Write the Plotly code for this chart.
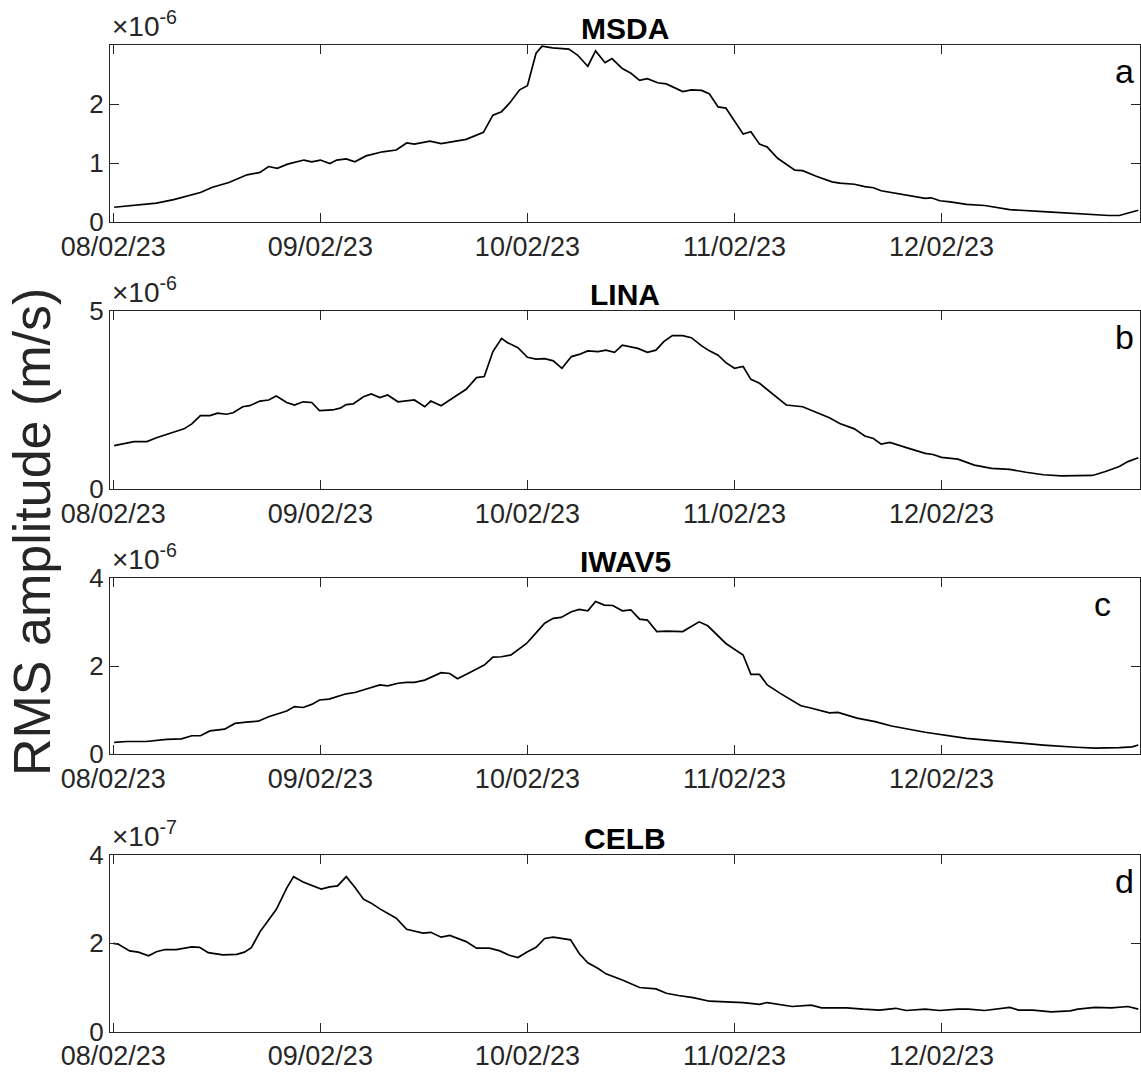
import pandas as pd
import plotly.graph_objects as go

# ---------------- data (hours since 08/02/23 00:00, amplitude in units of the panel scale) ----
MSDA_h = [0.1, 5.0, 7.0, 10.1, 11.5, 13.4, 15.5, 17.0, 18.0, 19.0, 20.2, 22.1, 23.0, 24.0, 25.1, 25.9,
          27.0, 28.0, 29.3, 31.2, 32.8, 34.0, 34.9, 36.7, 38.0, 40.9, 42.9, 44.0, 45.0, 45.9, 47.1, 48.0,
          49.0, 49.7, 50.9, 52.8, 53.8, 55.0, 55.9, 57.0, 57.8, 59.0, 60.0, 61.0, 61.9, 63.1, 64.1, 66.0,
          67.0, 68.2, 69.1, 70.1, 71.0, 72.0, 73.0, 73.9, 74.9, 75.8, 77.0, 79.0, 79.9, 81.4, 83.3, 84.2,
          85.9, 87.1, 88.1, 89.0, 90.2, 92.2, 94.1, 94.8, 95.8, 97.0, 98.9, 101.0, 103.9, 107.8, 111.6,
          115.4, 116.6, 117.6, 118.8]
MSDA_v = [0.25, 0.32, 0.38, 0.50, 0.59, 0.67, 0.80, 0.84, 0.94, 0.91, 0.98, 1.05, 1.02, 1.05, 0.99, 1.05,
          1.07, 1.02, 1.12, 1.19, 1.22, 1.34, 1.32, 1.37, 1.33, 1.40, 1.52, 1.81, 1.87, 2.01, 2.24, 2.31,
          2.86, 2.98, 2.95, 2.93, 2.83, 2.64, 2.90, 2.70, 2.77, 2.60, 2.52, 2.40, 2.43, 2.36, 2.34, 2.21,
          2.24, 2.23, 2.17, 1.95, 1.93, 1.70, 1.49, 1.53, 1.32, 1.27, 1.08, 0.88, 0.87, 0.78, 0.68, 0.66,
          0.64, 0.60, 0.58, 0.53, 0.50, 0.44, 0.40, 0.41, 0.36, 0.34, 0.30, 0.28, 0.21, 0.175, 0.14,
          0.11, 0.11, 0.15, 0.20]

LINA_h = [0.1, 2.4, 3.9, 5.0, 8.2, 9.1, 10.1, 11.2, 12.1, 13.1, 13.9, 15.0, 15.8, 17.0, 18.0, 18.9,
          20.1, 21.0, 22.0, 23.0, 23.9, 25.4, 26.3, 27.0, 27.8, 29.0, 29.9, 30.9, 31.8, 33.0, 34.9, 36.1,
          36.8, 38.0, 39.0, 40.9, 42.1, 43.0, 44.0, 45.0, 45.7, 46.9, 48.0, 49.0, 50.0, 51.0, 52.0, 53.1,
          54.0, 55.0, 56.2, 57.1, 58.1, 59.0, 60.8, 61.9, 62.9, 63.8, 64.8, 66.0, 67.0, 68.2, 69.1, 70.1,
          71.0, 72.0, 73.0, 73.9, 74.9, 76.3, 78.0, 79.9, 81.6, 83.0, 84.2, 85.9, 87.1, 88.1, 89.0, 90.0,
          92.2, 94.1, 95.0, 96.0, 97.9, 99.8, 101.8, 103.9, 105.8, 107.8, 109.9, 113.5, 115.0, 116.6,
          117.6, 118.8]
LINA_v = [1.22, 1.33, 1.33, 1.44, 1.69, 1.83, 2.06, 2.06, 2.13, 2.10, 2.14, 2.31, 2.34, 2.47, 2.50, 2.61,
          2.43, 2.36, 2.45, 2.43, 2.20, 2.22, 2.27, 2.37, 2.39, 2.59, 2.67, 2.57, 2.64, 2.45, 2.50, 2.31,
          2.47, 2.34, 2.50, 2.80, 3.13, 3.16, 3.86, 4.23, 4.11, 3.97, 3.70, 3.65, 3.66, 3.60, 3.39, 3.72,
          3.78, 3.88, 3.86, 3.90, 3.84, 4.04, 3.95, 3.84, 3.90, 4.14, 4.31, 4.31, 4.25, 4.02, 3.88, 3.76,
          3.55, 3.39, 3.44, 3.08, 2.97, 2.69, 2.36, 2.31, 2.13, 2.00, 1.84, 1.69, 1.49, 1.42, 1.26, 1.31,
          1.14, 1.00, 0.97, 0.89, 0.84, 0.67, 0.58, 0.55, 0.47, 0.40, 0.37, 0.38, 0.49, 0.63,
          0.77, 0.88]

IWAV5_h = [0.1, 1.6, 3.8, 6.2, 7.9, 9.1, 10.1, 11.2, 12.9, 14.1, 15.4, 16.8, 18.0, 19.1, 20.1, 21.0,
           22.0, 23.0, 23.9, 25.0, 27.0, 28.0, 29.3, 30.9, 31.8, 33.0, 34.0, 34.9, 36.1, 38.0, 39.0, 39.9,
           41.1, 42.1, 43.0, 44.0, 45.0, 46.1, 47.9, 49.0, 50.0, 51.0, 51.9, 53.1, 54.0, 55.0, 55.9, 56.9,
           57.9, 59.0, 60.0, 61.0, 61.9, 63.0, 64.1, 66.0, 67.0, 67.9, 68.9, 71.0, 73.0, 73.9, 74.9, 75.8,
           77.3, 79.7, 80.6, 83.0, 84.0, 86.2, 88.3, 90.2, 94.1, 95.8, 98.9, 101.8, 103.9, 107.8, 111.6,
           113.8, 116.6, 118.1, 118.8]
IWAV5_v = [0.27, 0.29, 0.29, 0.34, 0.35, 0.42, 0.42, 0.53, 0.57, 0.70, 0.73, 0.75, 0.85, 0.91, 0.98, 1.08,
           1.06, 1.13, 1.23, 1.25, 1.37, 1.40, 1.47, 1.57, 1.55, 1.61, 1.63, 1.63, 1.68, 1.85, 1.83, 1.71,
           1.83, 1.93, 2.02, 2.20, 2.21, 2.25, 2.51, 2.75, 2.97, 3.08, 3.10, 3.23, 3.28, 3.25, 3.46, 3.38,
           3.37, 3.25, 3.27, 3.06, 3.04, 2.78, 2.79, 2.78, 2.89, 3.00, 2.91, 2.51, 2.25, 1.81, 1.81, 1.57,
           1.38, 1.10, 1.06, 0.94, 0.95, 0.82, 0.74, 0.64, 0.50, 0.45, 0.36, 0.31, 0.27, 0.21, 0.16,
           0.14, 0.15, 0.17, 0.21]

CELB_h = [0.0, 0.6, 1.9, 2.9, 4.1, 5.0, 6.0, 7.3, 9.1, 10.0, 11.0, 12.7, 14.3, 15.2, 16.0, 17.0, 18.0,
          18.9, 20.1, 20.9, 22.0, 23.0, 24.1, 25.1, 26.0, 27.0, 28.0, 29.0, 29.9, 30.9, 32.8, 34.0, 35.9,
          36.8, 38.0, 39.0, 40.9, 42.1, 43.6, 44.8, 45.9, 46.9, 47.9, 49.0, 50.0, 51.0, 53.0, 54.0, 55.0,
          56.2, 57.1, 59.0, 61.0, 62.9, 64.1, 65.5, 67.2, 69.1, 71.0, 73.0, 74.9, 75.8, 78.7, 80.9, 82.1,
          85.0, 86.9, 88.8, 90.7, 91.9, 94.1, 95.8, 97.9, 99.1, 101.0, 103.9, 104.9, 106.6, 108.7, 110.9,
          111.8, 113.8, 115.7, 117.6, 118.8]
CELB_v = [2.00, 1.98, 1.83, 1.80, 1.72, 1.81, 1.86, 1.86, 1.92, 1.91, 1.79, 1.74, 1.75, 1.80, 1.90, 2.26, 2.53,
          2.77, 3.25, 3.51, 3.39, 3.32, 3.23, 3.28, 3.30, 3.51, 3.27, 3.00, 2.91, 2.78, 2.57, 2.32, 2.23,
          2.25, 2.14, 2.18, 2.04, 1.89, 1.89, 1.83, 1.73, 1.68, 1.80, 1.91, 2.11, 2.14, 2.08, 1.77, 1.56,
          1.43, 1.31, 1.17, 1.00, 0.97, 0.87, 0.82, 0.77, 0.69, 0.67, 0.66, 0.62, 0.66, 0.57, 0.60, 0.54,
          0.54, 0.51, 0.49, 0.53, 0.48, 0.51, 0.48, 0.51, 0.51, 0.48, 0.55, 0.49, 0.49, 0.45, 0.47,
          0.51, 0.55, 0.54, 0.57, 0.51]

stations = ["MSDA", "LINA", "IWAV5", "CELB"]
panel_letters = ["a", "b", "c", "d"]
scale_exp = [-6, -6, -6, -7]
y_max = [3.0, 5.0, 4.0, 4.0]
y_ticks = [[0, 1, 2], [0, 5], [0, 2, 4], [0, 2, 4]]
hours = [MSDA_h, LINA_h, IWAV5_h, CELB_h]
values = [MSDA_v, LINA_v, IWAV5_v, CELB_v]
day_ticks = ["2023-02-08", "2023-02-09", "2023-02-10", "2023-02-11", "2023-02-12"]
x_start_h, x_end_h = -0.38, 119.0
y_label = "RMS amplitude (m/s)"

# ---------------- layout geometry (pixels) ----------------
W, H = 1141, 1072
PL, PR = 110, 1140
panel_top = [45, 311, 577.7, 855]
panel_bot = [222, 489, 754.3, 1031.7]
FONT = "Liberation Sans, Arial, Helvetica, sans-serif"
AX = "#262626"

def px(x):
    return x / W

def py(y):
    return 1 - y / H

t0 = pd.Timestamp("2023-02-08 00:00")
fig = go.Figure()
annotations = []
layout = {}
for i in range(4):
    n = "" if i == 0 else str(i + 1)
    t = [t0 + pd.Timedelta(hours=h) for h in hours[i]]
    sc = 10.0 ** scale_exp[i]
    y = [v * sc for v in values[i]]
    fig.add_trace(go.Scatter(x=t, y=y, mode="lines", line=dict(color="black", width=1.7),
                             xaxis="x" + n, yaxis="y" + n, showlegend=False, hoverinfo="skip"))
    layout["xaxis" + n] = dict(
        domain=[px(PL), px(PR)], anchor="y" + n, type="date", automargin=False,
        range=[t0 + pd.Timedelta(hours=x_start_h), t0 + pd.Timedelta(hours=x_end_h)],
        tickvals=day_ticks, ticktext=[pd.Timestamp(d).strftime("%d/%m/%y") for d in day_ticks],
        ticks="inside", ticklen=9, tickwidth=1.2, tickcolor=AX,
        showline=True, linecolor=AX, linewidth=1.3, mirror="ticks",
        showgrid=False, zeroline=False,
        tickfont=dict(family=FONT, size=27, color=AX),
    )
    layout["yaxis" + n] = dict(
        domain=[py(panel_bot[i]), py(panel_top[i])], anchor="x" + n, automargin=False,
        range=[0, y_max[i] * sc],
        tickvals=[v * sc for v in y_ticks[i]], ticktext=[str(v) for v in y_ticks[i]],
        ticks="inside", ticklen=9, tickwidth=1.2, tickcolor=AX,
        showline=True, linecolor=AX, linewidth=1.3, mirror="ticks",
        showgrid=False, zeroline=False,
        tickfont=dict(family=FONT, size=26, color=AX),
    )
    # station title
    annotations.append(dict(x=px((PL + PR) / 2), y=py(panel_top[i] - 16.5), xref="paper", yref="paper",
                            text="<b>%s</b>" % stations[i], showarrow=False,
                            xanchor="center", yanchor="middle",
                            font=dict(family=FONT, size=30, color="black")))
    # exponent
    annotations.append(dict(x=px(PL), y=py(panel_top[i] - 1), xref="paper", yref="paper",
                            text="×10<sup>%d</sup>" % scale_exp[i], showarrow=False,
                            xanchor="left", yanchor="bottom",
                            font=dict(family=FONT, size=28, color=AX)))
    # panel letter
    lx = 1102 if panel_letters[i] == "c" else 1124
    annotations.append(dict(x=px(lx), y=py(panel_top[i] + 26), xref="paper", yref="paper",
                            text=panel_letters[i], showarrow=False,
                            xanchor="center", yanchor="middle",
                            font=dict(family=FONT, size=34, color="black")))

annotations.append(dict(x=px(32), y=py(532), xref="paper", yref="paper", text=y_label,
                        showarrow=False, textangle=-90, xanchor="center", yanchor="middle",
                        font=dict(family=FONT, size=52, color=AX)))

fig.update_layout(template="none", width=W, height=H, margin=dict(l=0, r=0, t=0, b=0, autoexpand=False),
                  paper_bgcolor="white", plot_bgcolor="white", showlegend=False,
                  annotations=annotations, **layout)
fig.write_html("out.html", config={"displayModeBar": False},
               post_script="document.body.style.margin='0';document.body.style.overflow='hidden';")
